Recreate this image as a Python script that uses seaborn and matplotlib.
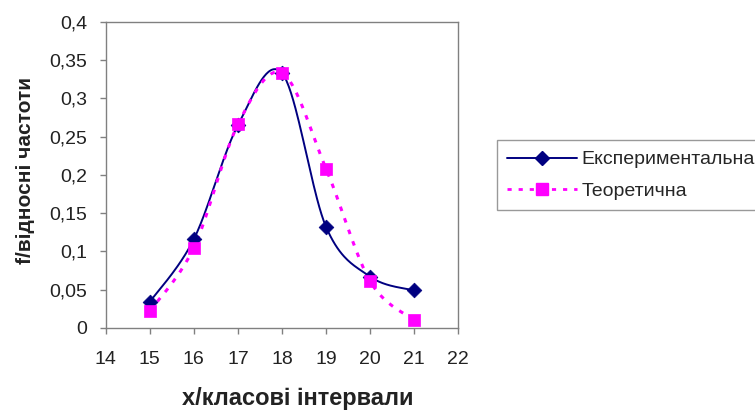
import numpy as np
import pandas as pd
import matplotlib
matplotlib.use("Agg")
import matplotlib.pyplot as plt
from matplotlib.lines import Line2D
from matplotlib.ticker import FuncFormatter, MultipleLocator
import seaborn as sns

x_vals = [15, 16, 17, 18, 19, 20, 21]
experimental = [0.034, 0.116, 0.265, 0.333, 0.132, 0.067, 0.049]
theoretical = [0.022, 0.105, 0.266, 0.333, 0.208, 0.061, 0.010]
series_names = ["Експериментальна", "Теоретична"]
xlabel = "x/класові інтервали"
ylabel = "f/відносні частоти"

sns.set_theme(style="white")
plt.rcParams['font.family'] = ['Liberation Sans', 'DejaVu Sans']


def smooth(xs, ys, n=40):
    # Catmull-Rom style smoothing (as Excel's smoothed line) for rendering only
    xs = np.asarray(xs, float); ys = np.asarray(ys, float)
    P = np.column_stack([xs, ys])
    P = np.vstack([P[0], P, P[-1]])
    out = []
    for i in range(1, len(P) - 2):
        p0, p1, p2, p3 = P[i - 1], P[i], P[i + 1], P[i + 2]
        c1 = p1 + (p2 - p0) / 6.0
        c2 = p2 - (p3 - p1) / 6.0
        t = np.linspace(0, 1, n)[:, None]
        seg = ((1 - t) ** 3) * p1 + 3 * ((1 - t) ** 2) * t * c1 + 3 * (1 - t) * t ** 2 * c2 + t ** 3 * p2
        out.append(seg if i == 1 else seg[1:])
    out = np.vstack(out)
    return out[:, 0], out[:, 1]


fig = plt.figure(figsize=(7.55, 4.12), dpi=100)
ax = fig.add_axes([0.140, 0.204, 0.467, 0.743])

colors = ["#000080", "#FF00FF"]
markers = ["D", "s"]
styles = ["-", (0, (1.5, 2.5))]
widths = [1.4, 2.2]
msizes = [7.5, 9]

for name, ys, c, m, ls, lw, ms in zip(series_names, [experimental, theoretical], colors, markers, styles, widths, msizes):
    sx, sy = smooth(x_vals, ys)
    dfl = pd.DataFrame({"x": sx, "y": sy})
    sns.lineplot(data=dfl, x="x", y="y", ax=ax, color=c, linestyle=ls, linewidth=lw, sort=False, estimator=None)
    dfp = pd.DataFrame({"x": x_vals, "y": ys})
    sns.scatterplot(data=dfp, x="x", y="y", ax=ax, color=c, marker=m, s=ms ** 2, edgecolor=c, linewidth=0.5, zorder=5)

ax.set_xlim(14, 22)
ax.set_ylim(0, 0.4)
ax.xaxis.set_major_locator(MultipleLocator(1))
ax.yaxis.set_major_locator(MultipleLocator(0.05))
ax.yaxis.set_major_formatter(FuncFormatter(lambda v, p: ("%g" % round(v, 2)).replace(".", ",")))
ax.xaxis.set_major_formatter(FuncFormatter(lambda v, p: "%d" % v))
ax.tick_params(axis="both", which="major", direction="out", length=4.5, width=1, color="#808080",
               labelsize=14, labelcolor="#222222", left=True, bottom=True)
ax.tick_params(axis="x", pad=12)
ax.tick_params(axis="y", pad=9)
for s in ax.spines.values():
    s.set_color("#808080")
    s.set_linewidth(1.0)

ax.set_xlabel(xlabel, fontsize=17, fontweight="bold", color="#222222", labelpad=14)
ax.set_ylabel(ylabel, fontsize=15, fontweight="bold", color="#222222", labelpad=10)
ax.xaxis.label.set_x(0.545)
ax.yaxis.label.set_y(0.513)

handles = [Line2D([], [], color=colors[0], linestyle="-", linewidth=1.4, marker="D", markersize=7),
           Line2D([], [], color=colors[1], linestyle=(0, (1.5, 2.5)), linewidth=2, marker="s", markersize=8)]
leg = fig.legend(handles, series_names, loc="upper left", bbox_to_anchor=(0.658, 0.66),
                 frameon=True, fancybox=False, edgecolor="#808080", fontsize=14,
                 handlelength=3.6, borderpad=0.55, labelspacing=0.7, handletextpad=0.2,
                 borderaxespad=0)
leg.get_frame().set_linewidth(1.0)

fig.savefig("out.png", dpi=100)
